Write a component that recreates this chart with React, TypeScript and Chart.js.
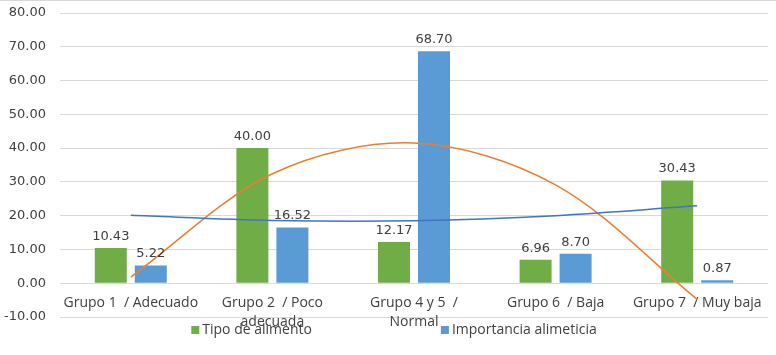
import { useEffect, useRef } from "react";
import { Chart, registerables } from "chart.js";

Chart.register(...registerables);

const categories: (string | string[])[] = [
  "Grupo 1  / Adecuado",
  ["Grupo 2  / Poco", "adecuada"],
  ["Grupo 4 y 5  /", "Normal"],
  "Grupo 6  / Baja",
  "Grupo 7  / Muy baja",
];
const seriesNames = ["Tipo de alimento", "Importancia alimeticia"];
const tipoAlimento = [10.43, 40.0, 12.17, 6.96, 30.43];
const importancia = [5.22, 16.52, 68.7, 8.7, 0.87];
// trendlines (polynomial)
const trendTipo = [20.1, 18.6, 18.5, 20.0, 22.9];
const trendImportancia = [1.8, 32.4, 41.5, 29.1, -4.8];
const yMin = -10;
const yMax = 80;
const yStep = 10;

const GREEN = "#70AD47";
const BLUE = "#5B9BD5";
const ORANGE = "#ED7D31";
const DARKBLUE = "#4472C4";
const TEXT = "#404040";
const GRID = "#D9D9D9";

const labelFont = "13px 'DejaVu Sans'";
const catFont = "'Open Sans'";

const barLabelsPlugin = {
  id: "barLabels",
  afterDatasetsDraw(chart: any) {
    const ctx = chart.ctx;
    ctx.save();
    ctx.font = labelFont;
    ctx.fillStyle = TEXT;
    ctx.textAlign = "center";
    ctx.textBaseline = "bottom";
    chart.data.datasets.forEach((ds: any, i: number) => {
      if (ds.type !== "bar") return;
      const meta = chart.getDatasetMeta(i);
      meta.data.forEach((el: any, j: number) => {
        const v = ds.data[j] as number;
        ctx.fillText(v.toFixed(2), el.x, Math.min(el.y, el.base) - 5);
      });
    });
    ctx.restore();
  },
};

const customLegendPlugin = {
  id: "customLegend",
  afterDraw(chart: any) {
    const ctx = chart.ctx;
    ctx.save();
    ctx.font = "14px " + catFont;
    ctx.textBaseline = "middle";
    ctx.textAlign = "left";
    const bars = chart.data.datasets.filter((d: any) => d.type === "bar");
    const box = 8;
    const gapText = 3;
    const gapItems = 129;
    const widths = bars.map((d: any) => box + gapText + ctx.measureText(d.label).width);
    const total = widths.reduce((a: number, b: number) => a + b, 0) + gapItems * (bars.length - 1);
    let x = chart.width / 2 + 6 - total / 2;
    const y = chart.chartArea.bottom + 13;
    bars.forEach((d: any, i: number) => {
      ctx.fillStyle = d.backgroundColor;
      ctx.fillRect(x, y - box / 2, box, box);
      ctx.fillStyle = TEXT;
      ctx.fillText(d.label, x + box + gapText, y);
      x += widths[i] + gapItems;
    });
    ctx.restore();
  },
};

const borderPlugin = {
  id: "topBorder",
  beforeDraw(chart: any) {
    const ctx = chart.ctx;
    ctx.save();
    ctx.strokeStyle = GRID;
    ctx.lineWidth = 1;
    ctx.beginPath();
    ctx.moveTo(0, 0.5);
    ctx.lineTo(chart.width, 0.5);
    ctx.stroke();
    ctx.restore();
  },
};

export default function App() {
  const ref = useRef<HTMLCanvasElement>(null);
  useEffect(() => {
    if (!ref.current) return;
    const chart = new Chart(ref.current, {
      type: "bar",
      data: {
        labels: categories,
        datasets: [
          {
            type: "line",
            label: "Polinómica (Tipo de alimento)",
            data: trendTipo,
            borderColor: DARKBLUE,
            borderWidth: 1.5,
            pointRadius: 0,
            tension: 0.33,
            fill: false,
            order: 0,
          },
          {
            type: "line",
            label: "Polinómica (Importancia alimeticia)",
            data: trendImportancia,
            borderColor: ORANGE,
            borderWidth: 1.5,
            pointRadius: 0,
            tension: 0.33,
            fill: false,
            order: 0,
          },
          {
            type: "bar",
            label: seriesNames[0],
            data: tipoAlimento,
            backgroundColor: GREEN,
            categoryPercentage: 0.565,
            barPercentage: 0.8,
            order: 1,
          },
          {
            type: "bar",
            label: seriesNames[1],
            data: importancia,
            backgroundColor: BLUE,
            categoryPercentage: 0.565,
            barPercentage: 0.8,
            order: 1,
          },
        ] as any,
      },
      options: {
        responsive: false,
        animation: false,
        layout: { padding: { left: 0, right: 8, top: 13, bottom: 38 } },
        plugins: {
          legend: { display: false },
          tooltip: { enabled: false },
        },
        scales: {
          x: {
            position: { y: 0 } as any,
            grid: { display: false, drawTicks: false },
            border: { display: false },
            afterFit: (s: any) => {
              s.paddingLeft = 0;
              s.paddingRight = 0;
              s.paddingTop = 0;
              s.paddingBottom = 0;
            },
            ticks: {
              autoSkip: false,
              maxRotation: 0,
              minRotation: 0,
              padding: 11,
              color: TEXT,
              font: { family: catFont, size: 14, lineHeight: 1.3 },
            },
          },
          y: {
            min: yMin,
            max: yMax,
            grid: { color: GRID, lineWidth: 1, drawTicks: false },
            border: { display: false },
            afterFit: (s: any) => {
              s.width = 60;
              s.paddingTop = 0;
              s.paddingBottom = 0;
            },
            ticks: {
              stepSize: yStep,
              padding: 14,
              color: TEXT,
              font: { family: "'DejaVu Sans'", size: 13 },
              callback: (v: any) => Number(v).toFixed(2),
            },
          },
        },
      },
      plugins: [borderPlugin, barLabelsPlugin, customLegendPlugin],
    });
    return () => chart.destroy();
  }, []);
  return (
    <div style={{ position: "absolute", left: 0, top: 0, width: 776, height: 355, background: "#fff" }}>
      <canvas ref={ref} width={776} height={355} style={{ width: 776, height: 355 }} />
    </div>
  );
}
